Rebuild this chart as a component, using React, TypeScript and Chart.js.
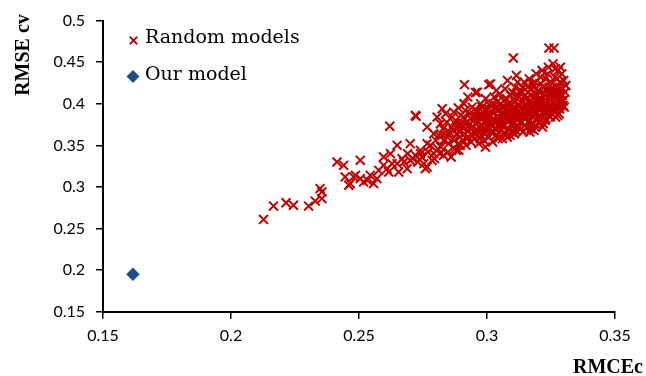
import React, { useEffect, useRef } from "react";
import { Chart, registerables } from "chart.js";

Chart.register(...registerables);

// [RMCEc, RMSE cv]
const randomModels: [number, number][] = [
  // sparse lower-left tail
  [0.2127, 0.261], [0.2166, 0.277], [0.2215, 0.281], [0.2244, 0.278], [0.2303, 0.277],
  [0.2329, 0.283], [0.2348, 0.298], [0.2355, 0.286], [0.2355, 0.294],
  [0.2414, 0.33], [0.244, 0.326], [0.2505, 0.332], [0.2446, 0.312], [0.2466, 0.304],
  [0.2486, 0.314], [0.2505, 0.31], [0.2518, 0.306], [0.2557, 0.304], [0.2544, 0.314],
  [0.2577, 0.32], [0.2596, 0.326], [0.2596, 0.336], [0.2616, 0.318], [0.2649, 0.35],
  [0.27, 0.352], [0.2629, 0.328], [0.2649, 0.328], [0.2668, 0.334], [0.2688, 0.322],
  [0.27, 0.332], [0.272, 0.338], [0.2753, 0.328], [0.2779, 0.35], [0.2766, 0.324],
  [0.274, 0.344], [0.2792, 0.34], [0.2623, 0.34],
  [0.262, 0.373], [0.2723, 0.385], [0.2759, 0.322], [0.2766, 0.372], [0.2825, 0.394],
  [0.2912, 0.423], [0.3007, 0.423], [0.3103, 0.455], [0.3242, 0.467], [0.3262, 0.467],
  [0.2955, 0.4135], [0.2994, 0.348],
  [0.2479, 0.312], [0.246, 0.302], [0.2533, 0.308], [0.257, 0.31], [0.261, 0.322],
  [0.2655, 0.318], [0.2675, 0.33], [0.269, 0.34], [0.271, 0.334], [0.273, 0.33],
  [0.2745, 0.336], [0.277, 0.342], [0.2785, 0.332],
  [0.272, 0.386], [0.2766, 0.352], [0.2792, 0.364], [0.2831, 0.356], [0.2818, 0.376],
  [0.2864, 0.384], [0.274, 0.34], [0.289, 0.344], [0.2795, 0.334], [0.283, 0.338], [0.286, 0.336],
  // 0.280 - 0.285
  [0.2805, 0.384], [0.2812, 0.362], [0.282, 0.348], [0.2828, 0.37], [0.2835, 0.356],
  [0.2842, 0.378], [0.2848, 0.342], [0.2853, 0.366], [0.28, 0.356], [0.2815, 0.34],
  [0.2838, 0.388], [0.285, 0.352], [0.2808, 0.346], [0.2825, 0.362], [0.2845, 0.36],
  // 0.286 - 0.290
  [0.2862, 0.372], [0.2866, 0.358], [0.287, 0.39], [0.2874, 0.346], [0.2878, 0.38],
  [0.2882, 0.364], [0.2886, 0.352], [0.289, 0.374], [0.2894, 0.36], [0.2898, 0.386],
  [0.2868, 0.368], [0.288, 0.344], [0.2888, 0.395], [0.2896, 0.35], [0.2876, 0.376], [0.2892, 0.366],
  [0.2872, 0.356], [0.2884, 0.37], [0.2899, 0.376],
  // 0.290 - 0.295
  [0.2902, 0.372], [0.2905, 0.356], [0.2908, 0.384], [0.2912, 0.364], [0.2915, 0.392],
  [0.2918, 0.35], [0.2922, 0.378], [0.2925, 0.408], [0.2928, 0.36], [0.2932, 0.388],
  [0.2935, 0.37], [0.2938, 0.354], [0.2942, 0.396], [0.2945, 0.38], [0.2948, 0.366],
  [0.291, 0.4], [0.292, 0.358], [0.293, 0.374], [0.294, 0.362], [0.295, 0.386],
  [0.2914, 0.376], [0.2926, 0.368], [0.2937, 0.382], [0.2946, 0.372],
  // 0.295 - 0.300
  [0.2952, 0.358], [0.2955, 0.376], [0.2958, 0.392], [0.2962, 0.414], [0.2965, 0.368],
  [0.2968, 0.352], [0.2972, 0.384], [0.2975, 0.4], [0.2978, 0.362], [0.2982, 0.374],
  [0.2985, 0.39], [0.2988, 0.356], [0.2992, 0.38], [0.2995, 0.406], [0.2998, 0.368],
  [0.296, 0.384], [0.297, 0.372], [0.298, 0.396], [0.299, 0.364], [0.2957, 0.364],
  [0.2973, 0.358], [0.2983, 0.382], [0.2993, 0.394], [0.2966, 0.39],
  [0.2963, 0.378], [0.2977, 0.388], [0.2987, 0.37], [0.2996, 0.386],
  // 0.300 - 0.305
  [0.3002, 0.372], [0.3005, 0.386], [0.3008, 0.36], [0.301, 0.398], [0.3012, 0.378],
  [0.3014, 0.424], [0.3016, 0.366], [0.302, 0.39], [0.3022, 0.354], [0.3025, 0.382],
  [0.3028, 0.408], [0.303, 0.37], [0.3032, 0.396], [0.3035, 0.362], [0.3038, 0.384],
  [0.304, 0.402], [0.3042, 0.374], [0.3045, 0.392], [0.3048, 0.366], [0.305, 0.412],
  [0.3006, 0.394], [0.3018, 0.376], [0.3027, 0.366], [0.3034, 0.378], [0.3044, 0.358],
  [0.3036, 0.416], [0.3024, 0.4], [0.3046, 0.384],
  [0.3004, 0.38], [0.3015, 0.386], [0.3026, 0.374], [0.3039, 0.392], [0.3049, 0.376],
  // 0.305 - 0.310
  [0.3052, 0.38], [0.3055, 0.368], [0.3058, 0.396], [0.306, 0.358], [0.3062, 0.386],
  [0.3065, 0.404], [0.3068, 0.374], [0.307, 0.418], [0.3072, 0.364], [0.3075, 0.392],
  [0.3078, 0.38], [0.308, 0.428], [0.3082, 0.37], [0.3085, 0.4], [0.3088, 0.386],
  [0.309, 0.362], [0.3092, 0.41], [0.3095, 0.376], [0.3098, 0.394], [0.31, 0.368],
  [0.3057, 0.388], [0.3063, 0.372], [0.3067, 0.396], [0.3073, 0.384], [0.3077, 0.406],
  [0.3083, 0.378], [0.3087, 0.394], [0.3093, 0.384], [0.3097, 0.366], [0.3099, 0.414],
  [0.3054, 0.4], [0.3079, 0.36],
  [0.3059, 0.376], [0.3069, 0.388], [0.3081, 0.39], [0.3091, 0.398], [0.3096, 0.382],
  // 0.310 - 0.315
  [0.3102, 0.388], [0.3105, 0.376], [0.3108, 0.402], [0.311, 0.42], [0.3112, 0.368],
  [0.3115, 0.434], [0.3118, 0.39], [0.312, 0.38], [0.3122, 0.41], [0.3125, 0.372],
  [0.3128, 0.398], [0.313, 0.386], [0.3132, 0.416], [0.3135, 0.378], [0.3138, 0.404],
  [0.314, 0.366], [0.3142, 0.392], [0.3145, 0.426], [0.3148, 0.382], [0.315, 0.4],
  [0.3104, 0.396], [0.3107, 0.364], [0.3113, 0.384], [0.3117, 0.406], [0.3123, 0.392],
  [0.3127, 0.414], [0.3133, 0.37], [0.3137, 0.388], [0.3143, 0.408], [0.3147, 0.374],
  [0.3119, 0.426], [0.3129, 0.378], [0.3139, 0.42], [0.3149, 0.392],
  [0.3109, 0.386], [0.3121, 0.398], [0.3131, 0.394], [0.3141, 0.384], [0.3146, 0.398],
  // 0.315 - 0.320
  [0.3152, 0.384], [0.3155, 0.372], [0.3158, 0.398], [0.316, 0.414], [0.3162, 0.378],
  [0.3165, 0.43], [0.3168, 0.39], [0.317, 0.404], [0.3172, 0.37], [0.3175, 0.396],
  [0.3178, 0.384], [0.318, 0.42], [0.3182, 0.376], [0.3185, 0.408], [0.3188, 0.392],
  [0.319, 0.372], [0.3192, 0.436], [0.3195, 0.4], [0.3198, 0.384], [0.32, 0.416],
  [0.3154, 0.406], [0.3157, 0.388], [0.3163, 0.402], [0.3167, 0.366], [0.3173, 0.418],
  [0.3177, 0.376], [0.3183, 0.398], [0.3187, 0.426], [0.3193, 0.388], [0.3197, 0.41],
  [0.3159, 0.42], [0.3169, 0.38], [0.3179, 0.4], [0.3189, 0.412], [0.3199, 0.396], [0.3184, 0.368],
  [0.3161, 0.392], [0.3171, 0.41], [0.3181, 0.388], [0.3191, 0.404], [0.3176, 0.424],
  // 0.320 - 0.325
  [0.3202, 0.378], [0.3205, 0.392], [0.3208, 0.406], [0.321, 0.424], [0.3212, 0.384],
  [0.3215, 0.44], [0.3218, 0.398], [0.322, 0.376], [0.3222, 0.412], [0.3225, 0.39],
  [0.3228, 0.43], [0.323, 0.382], [0.3232, 0.404], [0.3235, 0.418], [0.3238, 0.394],
  [0.324, 0.444], [0.3242, 0.386], [0.3245, 0.41], [0.3248, 0.398], [0.325, 0.426],
  [0.3204, 0.414], [0.3207, 0.386], [0.3213, 0.396], [0.3217, 0.372], [0.3223, 0.402],
  [0.3227, 0.38], [0.3233, 0.392], [0.3237, 0.436], [0.3243, 0.42], [0.3247, 0.384],
  [0.3209, 0.432], [0.3219, 0.42], [0.3229, 0.41], [0.3239, 0.402], [0.3249, 0.414], [0.3244, 0.392],
  [0.3211, 0.402], [0.3221, 0.388], [0.3231, 0.418], [0.3241, 0.396], [0.3226, 0.396],
  // 0.325 - 0.331
  [0.3252, 0.388], [0.3255, 0.402], [0.3258, 0.448], [0.326, 0.414], [0.3262, 0.394],
  [0.3265, 0.432], [0.3268, 0.384], [0.327, 0.408], [0.3272, 0.42], [0.3275, 0.396],
  [0.3278, 0.44], [0.328, 0.404], [0.3282, 0.388], [0.3285, 0.426], [0.3288, 0.412],
  [0.329, 0.398], [0.3292, 0.436], [0.3295, 0.418], [0.3298, 0.404], [0.33, 0.428],
  [0.3302, 0.396], [0.3305, 0.414], [0.3308, 0.422], [0.3256, 0.42], [0.3264, 0.4],
  [0.3274, 0.43], [0.3284, 0.394], [0.3294, 0.41], [0.3287, 0.444], [0.3276, 0.386],
  [0.3266, 0.442], [0.3297, 0.398],
  [0.3259, 0.408], [0.3271, 0.414], [0.3281, 0.418], [0.3291, 0.404], [0.3269, 0.396],
];

const ourModel: [number, number][] = [[0.1617, 0.195]];

const seriesNames = ["Random models", "Our model"];
const xAxisTitle = "RMCEc";
const yAxisTitle = "RMSE cv";
const xRange = [0.15, 0.35];
const yRange = [0.15, 0.5];
const tickStep = 0.05;

const RED = "#C00000";
const BLUE = "#1F4E87";

const overlay = {
  id: "overlay",
  afterDraw(chart: any) {
    const ctx = chart.ctx as CanvasRenderingContext2D;
    ctx.save();
    ctx.fillStyle = "#000";
    ctx.font = "bold 20px 'Liberation Serif'";
    ctx.textAlign = "right";
    ctx.textBaseline = "alphabetic";
    ctx.fillText(xAxisTitle, 643, 373);
    ctx.translate(28.5, 55);
    ctx.rotate(-Math.PI / 2);
    ctx.textAlign = "center";
    ctx.fillText(yAxisTitle, 0, 0);
    ctx.restore();

    // legend
    ctx.save();
    const cx = 133.5, cy = 40.5, r = 3.8;
    ctx.strokeStyle = RED;
    ctx.lineWidth = 1.9;
    ctx.beginPath();
    ctx.moveTo(cx - r, cy - r); ctx.lineTo(cx + r, cy + r);
    ctx.moveTo(cx + r, cy - r); ctx.lineTo(cx - r, cy + r);
    ctx.stroke();
    const dx = 133, dy = 76.5, d = 6.5;
    ctx.fillStyle = BLUE;
    ctx.beginPath();
    ctx.moveTo(dx, dy - d); ctx.lineTo(dx + d, dy); ctx.lineTo(dx, dy + d); ctx.lineTo(dx - d, dy);
    ctx.closePath();
    ctx.fill();
    ctx.fillStyle = "#000";
    ctx.font = "19px 'DejaVu Serif'";
    ctx.textAlign = "left";
    ctx.textBaseline = "middle";
    ctx.fillText(seriesNames[0], 145, 38.5);
    ctx.fillText(seriesNames[1], 145, 75.5);
    ctx.restore();
  },
};

export default function App() {
  const ref = useRef<HTMLCanvasElement | null>(null);
  useEffect(() => {
    if (!ref.current) return;
    const fmt = (v: any) => String(+Number(v).toFixed(2));
    const tickFont = { family: "Lato", size: 16 };
    const chart = new Chart(ref.current, {
      type: "scatter",
      data: {
        datasets: [
          {
            label: seriesNames[0],
            data: randomModels.map(([x, y]) => ({ x, y })),
            pointStyle: "crossRot",
            pointRadius: 6.3,
            borderColor: RED,
            backgroundColor: RED,
            borderWidth: 2,
          },
          {
            label: seriesNames[1],
            data: ourModel.map(([x, y]) => ({ x, y })),
            pointStyle: "rectRot",
            pointRadius: 6.5,
            borderColor: BLUE,
            backgroundColor: BLUE,
            borderWidth: 0.5,
          },
        ],
      } as any,
      options: {
        animation: false,
        responsive: false,
        devicePixelRatio: 1,
        layout: { padding: { left: 0, right: 31, top: 19, bottom: 0 } },
        plugins: { legend: { display: false }, tooltip: { enabled: false } },
        scales: {
          x: {
            type: "linear",
            min: xRange[0],
            max: xRange[1],
            ticks: { stepSize: tickStep, callback: fmt, font: tickFont, color: "#000", padding: 8, maxRotation: 0 },
            grid: { display: true, drawOnChartArea: false, drawTicks: true, tickLength: 7, color: "#000", lineWidth: 1.5 },
            border: { display: true, color: "#000", width: 2 },
            afterFit: (s: any) => { s.height = 64.3; },
          },
          y: {
            type: "linear",
            min: yRange[0],
            max: yRange[1],
            ticks: { stepSize: tickStep, callback: fmt, font: tickFont, color: "#000", padding: 11 },
            grid: { display: true, drawOnChartArea: false, drawTicks: true, tickLength: 7, color: "#000", lineWidth: 1.5 },
            border: { display: true, color: "#000", width: 2 },
            afterFit: (s: any) => { s.width = 103; },
          },
        },
      } as any,
      plugins: [overlay],
    });
    return () => chart.destroy();
  }, []);
  return (
    <div style={{ position: "fixed", left: 0, top: 0, width: 646, height: 376, background: "#fff" }}>
      <canvas ref={ref} width={646} height={376} style={{ width: 646, height: 376, display: "block" }} />
    </div>
  );
}
